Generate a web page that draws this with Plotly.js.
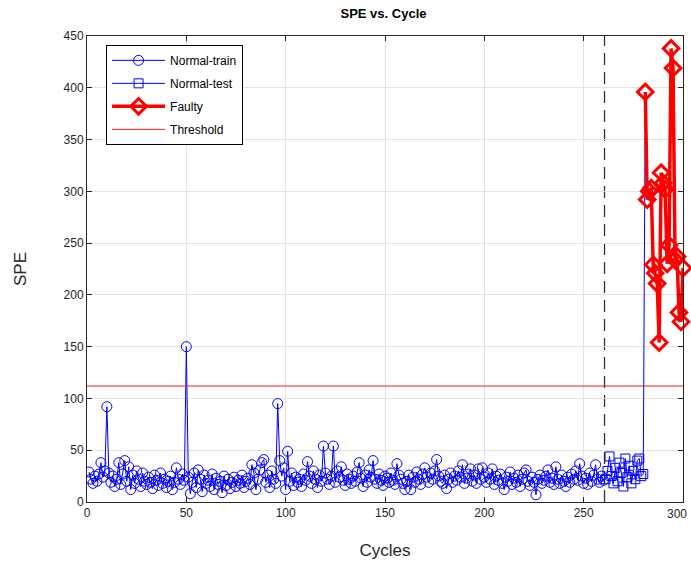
<!DOCTYPE html>
<html>
<head>
<meta charset="utf-8">
<script src="https://cdn.plot.ly/plotly-3.0.1.min.js"></script>
<style>html,body{margin:0;padding:0;background:#fff;}#chart{width:691px;height:565px;}</style>
</head>
<body>
<div id="chart"></div>
<script>
// ---- data ----
const trainSPE = [
  29, 22, 18, 25, 20, 27, 38, 24, 30, 92,
  28, 19, 25, 15, 22, 38, 17, 27, 40, 20,
  34, 12, 26, 18, 30, 22, 15, 28, 20, 17,
  24, 19, 13, 26, 21, 16, 28, 18, 22, 14,
  20, 25, 12, 19, 33, 22, 17, 27, 21, 150,
  24, 8, 19, 28, 14, 31, 22, 10, 26, 18,
  21, 15, 27, 12, 23, 17, 20, 9, 25, 16,
  22, 13, 19, 24, 15, 21, 18, 26, 14, 20,
  23, 17, 36, 28, 12, 22, 31, 38, 41, 19,
  26, 14, 30, 22, 18, 95, 40, 25, 33, 12,
  49, 20, 28, 16, 24, 19, 22, 15, 27, 21,
  39, 25, 18, 30, 22, 14, 26, 20, 54, 28,
  22, 17, 25, 54, 19, 30, 24, 34, 21, 16,
  27, 22, 18, 25, 20, 29, 38, 23, 15, 26,
  19, 31, 24, 40, 22, 18, 27, 21, 16, 25,
  23, 19, 28, 21, 17, 37, 26, 22, 18, 12,
  20, 26, 12, 24, 19, 29, 22, 17, 27, 33,
  24, 19, 28, 22, 30, 41, 25, 20, 18, 26,
  13, 22, 28, 19, 25, 21, 30, 24, 36, 18,
  23, 27, 32, 20, 26, 18, 32, 22, 33, 24,
  19, 28, 22, 32, 17, 25, 21, 27, 18, 12,
  24, 20, 29, 17, 23, 19, 26, 15, 22, 28,
  31, 20, 16, 24, 19, 7, 22, 26, 18, 21,
  25, 31, 19, 23, 17, 34, 22, 18, 26, 20,
  15, 24, 19, 27, 22, 30, 21, 37, 25, 18,
  23, 17, 28, 20, 26, 36, 22, 19, 25, 21
];
const testSPE = [22, 30, 44, 25, 18, 33, 20, 38, 28, 15, 42, 24, 35, 18, 30, 22, 40, 42, 25, 27];
const faultySPE = [396, 292, 300, 303, 229, 221, 211, 154, 318, 308, 302, 230, 248, 438, 419, 234, 237, 183, 174, 226];
const thresholdSPE = 112;
const boundaryCycle = 260.5;
const xTicks = [0, 50, 100, 150, 200, 250, 300];
const yTicks = [0, 50, 100, 150, 200, 250, 300, 350, 400, 450];

// ---- build x positions ----
const trainX = trainSPE.map((_, i) => i + 1);
const testX = testSPE.map((_, i) => trainSPE.length + i + 1);
const faultyX = faultySPE.map((_, i) => trainSPE.length + testSPE.length + i + 1);

const FONT = '"Liberation Sans", Arial, Helvetica, sans-serif';
const BLUE = 'rgb(0,0,255)';
const RED = 'rgb(255,0,0)';

const traces = [
  {
    x: trainX, y: trainSPE, name: 'Normal-train', type: 'scatter', mode: 'lines+markers',
    line: {color: BLUE, width: 1},
    marker: {symbol: 'circle-open', size: 10, color: BLUE, line: {width: 1}},
    legendgroup: 'a'
  },
  {
    x: testX, y: testSPE, name: 'Normal-test', type: 'scatter', mode: 'lines+markers',
    line: {color: BLUE, width: 1},
    marker: {symbol: 'square-open', size: 9, color: BLUE, line: {width: 1}},
    legendgroup: 'b'
  },
  {
    x: [testX[testX.length - 1], faultyX[0]],
    y: [testSPE[testSPE.length - 1], faultySPE[0]],
    type: 'scatter', mode: 'lines', showlegend: false, hoverinfo: 'skip',
    line: {color: BLUE, width: 1}
  },
  {
    x: faultyX, y: faultySPE, name: 'Faulty', type: 'scatter', mode: 'lines+markers',
    line: {color: RED, width: 3.5},
    marker: {symbol: 'diamond-open', size: 12, color: RED, line: {width: 3}},
    legendgroup: 'c', cliponaxis: false
  },
  {
    x: [0, 300], y: [thresholdSPE, thresholdSPE], name: 'Threshold', type: 'scatter', mode: 'lines',
    line: {color: 'rgb(235,30,30)', width: 1},
    legendgroup: 'd'
  }
];

const axisCommon = {
  showline: true, linecolor: '#262626', linewidth: 1, mirror: 'ticks',
  ticks: 'inside', ticklen: 5, tickcolor: '#262626', tickwidth: 1,
  showgrid: true, gridcolor: '#e3e3e3', gridwidth: 1, zeroline: false,
  tickfont: {family: FONT, size: 12, color: '#262626'}
};

// last x tick label is drawn as an annotation nudged left so it stays inside the figure (as in the reference)
const lastXTick = xTicks[xTicks.length - 1];
const xTickText = xTicks.map((v, i) => i === xTicks.length - 1 ? '' : String(v));

const layout = {
  width: 691, height: 565,
  margin: {l: 87, r: 8, t: 36, b: 63, pad: 0},
  paper_bgcolor: '#ffffff', plot_bgcolor: '#ffffff',
  font: {family: FONT, color: '#262626'},
  title: {text: '<b>SPE vs. Cycle</b>', font: {family: FONT, size: 13, color: '#000'}, x: 0.555, xanchor: 'center', y: 0.977, yanchor: 'middle'},
  xaxis: Object.assign({}, axisCommon, {
    range: [0, 300], tickvals: xTicks, ticktext: xTickText,
    title: {text: 'Cycles', font: {family: FONT, size: 17, color: '#262626'}, standoff: 24}
  }),
  yaxis: Object.assign({}, axisCommon, {
    range: [0, 450], tickvals: yTicks, ticktext: yTicks.map(String),
    title: {text: 'SPE', font: {family: FONT, size: 17, color: '#262626'}, standoff: 32}
  }),
  annotations: [{
    xref: 'x', yref: 'paper', x: lastXTick, y: 0, xanchor: 'right', yanchor: 'top',
    xshift: 6, yshift: -3, showarrow: false, text: String(lastXTick),
    font: {family: FONT, size: 12, color: '#262626'}
  }],
  showlegend: true,
  legend: {
    x: 0.032, y: 0.981, xanchor: 'left', yanchor: 'top',
    bgcolor: '#ffffff', bordercolor: '#000000', borderwidth: 1,
    font: {family: FONT, size: 12, color: '#000'},
    traceorder: 'grouped', tracegroupgap: 4, itemwidth: 53
  },
  shapes: [{
    type: 'line', xref: 'x', yref: 'paper', x0: boundaryCycle, x1: boundaryCycle, y0: 0, y1: 1,
    line: {color: '#333333', width: 1.3, dash: '12px,7px'}, layer: 'below'
  }]
};

Plotly.newPlot('chart', traces, layout, {displayModeBar: false, staticPlot: true});
</script>
</body>
</html>
